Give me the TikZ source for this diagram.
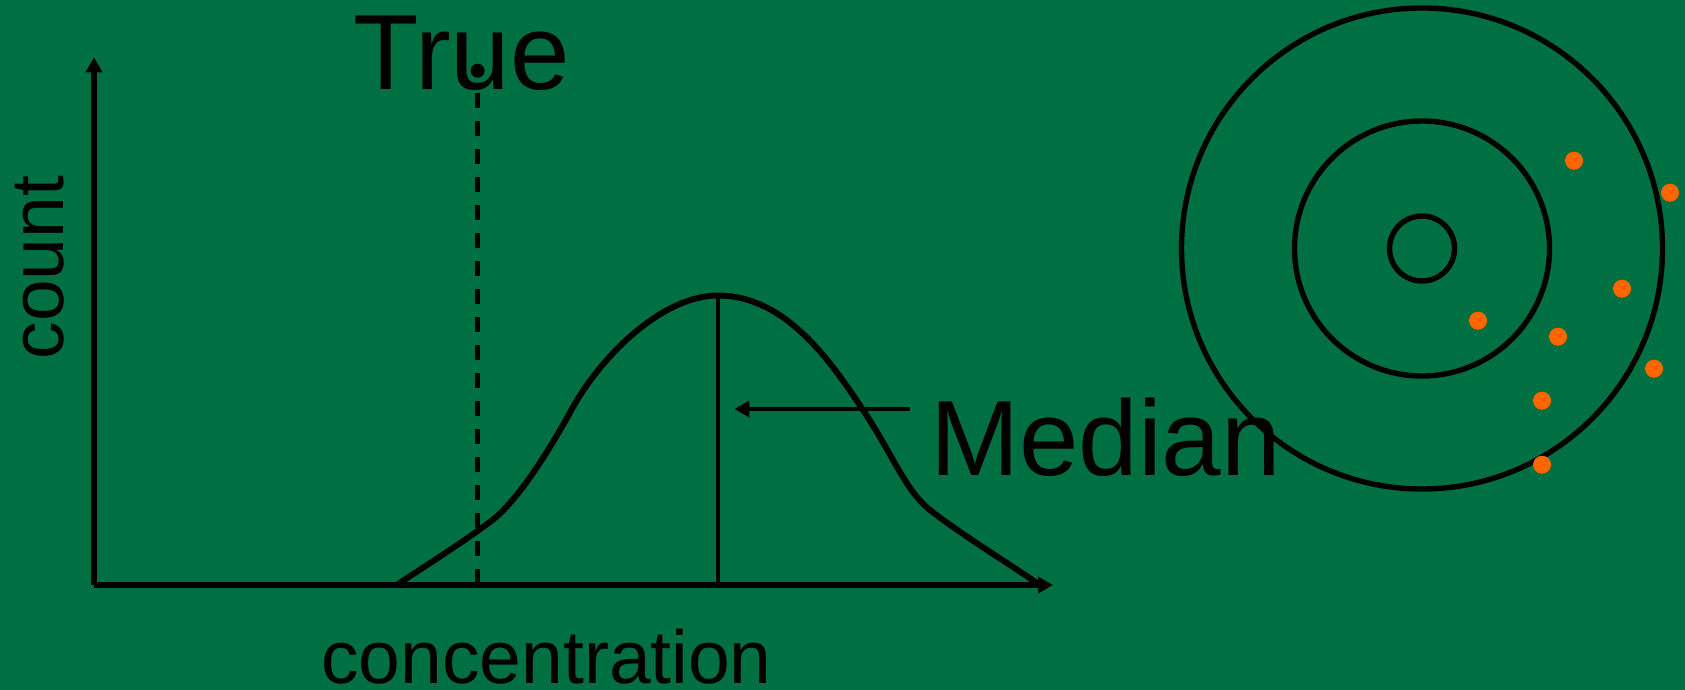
\documentclass[tikz,border=0pt]{standalone}
\usepackage{fontspec}
\setmainfont{Liberation Sans}
\usetikzlibrary{arrows.meta}

\definecolor{boardgreen}{RGB}{0,112,67}
\definecolor{shotorange}{RGB}{255,102,0}

\begin{document}
\begin{tikzpicture}[x=0.5pt, y=-0.5pt, >={Triangle[length=7.5pt, width=8pt]},
    every node/.style={inner sep=0pt, text=black},
    bigtext/.style={font=\fontsize{53.5}{60}\selectfont},
    axistext/.style={font=\fontsize{37.5}{44}\selectfont}]

    % --- 1. background (fixes the page size) ---
    \fill[boardgreen] (0,0) rectangle (1685,690);

    % --- 2. reference values ---
    % xAxis: y-axis position, yAxis: x-axis position, xTrue/xMed: marker lines
    \def\xAxis{94}
    \def\yAxis{585}
    \def\xTrue{477.6}
    \def\xMed{718}
    \def\yArrow{409}

    % --- 3. coordinates ---
    \coordinate (Origin)   at (\xAxis, \yAxis);
    \coordinate (YTip)     at (\xAxis, 57.3);
    \coordinate (XTip)     at (1053,   \yAxis);
    \coordinate (TrueTop)  at (\xTrue, 93);
    \coordinate (TrueFoot) at (\xTrue, \yAxis);
    \coordinate (TrueDot)  at (\xTrue, 70.7);
    \coordinate (MedTop)   at (\xMed,  296);
    \coordinate (MedFoot)  at (\xMed,  \yAxis);
    \coordinate (MedTail)  at (909.7,  \yArrow);
    \coordinate (MedHead)  at (734.4,  \yArrow);
    \coordinate (Bull)     at (1422,   248.5);

    % --- 4. axes and the distribution curve ---
    \draw[line width=2.6pt, ->] (Origin) -- (YTip);
    \draw[line width=2.6pt, ->] (Origin) -- (XTip);
    \draw[line width=3pt, line join=round]
      (398,584) .. controls (430,563) and (460,544) .. (490,522)
                .. controls (520,500) and (555,440) .. (573,407)
                .. controls (603,354) and (663,295.5) .. (\xMed,295.5)
                .. controls (785,295.5) and (830,360) .. (863,410)
                .. controls (893,455) and (905,490) .. (930,510)
                .. controls (955,530) and (1000,558) .. (1040,585);

    % true value (dashed) and median (solid)
    \draw[line width=2.3pt, dash pattern=on 7.5pt off 6.5pt] (TrueTop) -- (TrueFoot);
    \fill (TrueDot) circle (7);
    \draw[line width=2.4pt] (MedTop) -- (MedFoot);
    \draw[line width=2.1pt, ->] (MedTail) -- (MedHead);

    % --- 5. labels ---
    \node[bigtext, anchor=base west] (lblTrue) at (353.5, 90) {True};
    \node[bigtext, anchor=base west] (lblMedian) at (929.6, 475) {Median};
    \node[axistext, anchor=base west] (lblConc) at (321, 683.3) {concentration};
    \node[axistext, anchor=base west, rotate=90] (lblCount) at (63.3, 359.7) {count};

    % --- 6. target rings and shots ---
    \draw[line width=2.7pt] (Bull) circle (240.5);
    \draw[line width=2.7pt] (Bull) circle (127.5);
    \draw[line width=2.7pt] (Bull) circle (32.5);

    \fill[shotorange] (1574,160.7) circle (9);
    \fill[shotorange] (1670,192.7) circle (9);
    \fill[shotorange] (1622,288.7) circle (9);
    \fill[shotorange] (1478,320.7) circle (9);
    \fill[shotorange] (1558,336.7) circle (9);
    \fill[shotorange] (1654,368.7) circle (9);
    \fill[shotorange] (1542,400.7) circle (9);
    \fill[shotorange] (1542,464.7) circle (9);

\end{tikzpicture}
\end{document}
